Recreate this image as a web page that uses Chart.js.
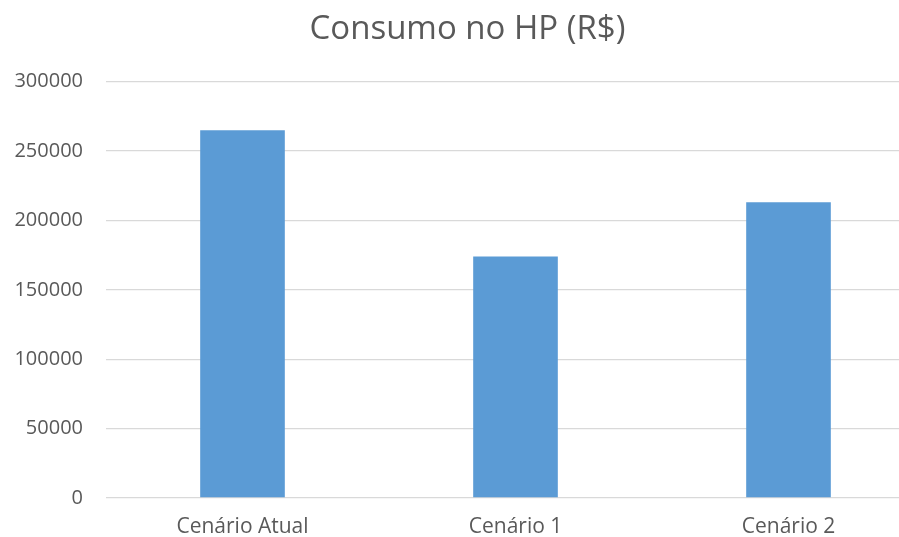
<!DOCTYPE html>
<html>
<head>
<meta charset="utf-8">
<script src="https://cdn.jsdelivr.net/npm/chart.js@4"></script>
<style>
  html, body { margin: 0; padding: 0; background: #ffffff; overflow: hidden; }
  #c { position: absolute; left: 0; top: 0; }
</style>
</head>
<body>
<canvas id="c" width="925" height="537" style="width:925px;height:537px"></canvas>
<script>
const categories = ["Cenário Atual", "Cenário 1", "Cenário 2"];
const consumo = [265000, 174000, 213000];
const yTicks = [0, 50000, 100000, 150000, 200000, 250000, 300000];
const chartTitle = "Consumo no HP (R$)";

const textColor = "#595959";
const fontFamily = "'Open Sans', sans-serif";

new Chart(document.getElementById("c"), {
  type: "bar",
  data: {
    labels: categories,
    datasets: [{
      data: consumo,
      backgroundColor: "#5B9BD5",
      borderWidth: 0,
      categoryPercentage: 0.31,
      barPercentage: 1.0
    }]
  },
  options: {
    responsive: false,
    maintainAspectRatio: false,
    animation: false,
    devicePixelRatio: 1,
    layout: { padding: { left: 10, right: 0, top: 0, bottom: -20 } },
    plugins: {
      legend: { display: false },
      tooltip: { enabled: false },
      title: {
        display: true,
        text: chartTitle,
        color: textColor,
        font: { family: fontFamily, size: 33, weight: "normal", lineHeight: 1.2 },
        padding: { top: 10, bottom: 32 }
      }
    },
    scales: {
      x: {
        grid: { display: false, drawTicks: false },
        border: { display: false },
        ticks: { color: textColor, font: { family: fontFamily, size: 21, lineHeight: 1.0 }, padding: 19 }
      },
      y: {
        min: 0,
        max: 300000,
        afterBuildTicks: (s) => { s.ticks = yTicks.map(v => ({ value: v })); },
        afterFit: (s) => { s.width = 96; },
        grid: { color: "#D9D9D9", lineWidth: 1.3, drawTicks: false },
        border: { display: false },
        ticks: {
          color: textColor,
          font: { family: fontFamily, size: 20 },
          padding: 23,
          callback: (v) => String(v)
        }
      }
    }
  }
});
</script>
</body>
</html>
